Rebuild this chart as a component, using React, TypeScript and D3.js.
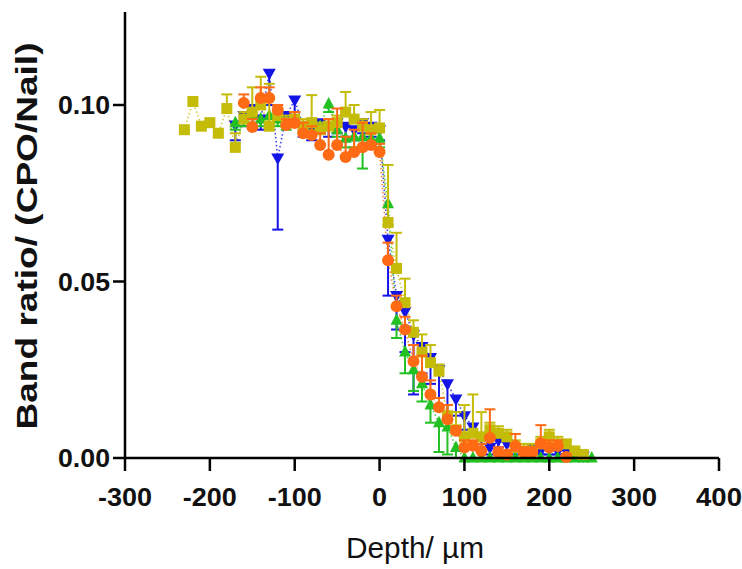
import React from "react";
import * as d3 from "d3";

const xTicks = [-300, -200, -100, 0, 100, 200, 300, 400];
const yTicks = [0, 0.05, 0.1];

// Olive squares (upper error bars)
const oliveX = [-230,-220,-210,-200,-190,-180,-170,-160,-150,-140,-130,-120,-110,-100,-90,-80,-70,-60,-50,-40,-30,-20,-10,0,10,20,30,40,50,60,70,80,90,100,110,120,130,140,150,160,170,180,190,200,210,220,230,240];
const oliveY = [0.093,0.101,0.094,0.095,0.092,0.099,0.088,0.096,0.098,0.100,0.094,0.097,0.095,0.096,0.094,0.095,0.093,0.094,0.095,0.098,0.096,0.094,0.093,0.0935,0.0667,0.0537,0.044,0.0356,0.030,0.027,0.0246,0.012,0.008,0.006,0.007,0.006,0.008,0.007,0.006,0.003,0.002,0.002,0.004,0.006,0.004,0.004,0.002,0.001];
const oliveErr = [0.093,0.101,0.094,0.095,0.092,0.103,0.092,0.098,0.105,0.108,0.106,0.099,0.097,0.098,0.096,0.1028,0.095,0.096,0.097,0.1037,0.100,0.096,0.098,0.0986,0.083,0.0638,0.0508,0.039,0.035,0.032,0.0265,0.015,0.013,0.015,0.018,0.013,0.010,0.009,0.008,0.005,0.004,0.004,0.006,0.008,0.006,0.005,0.003,0.002];

// Blue inverted triangles (lower error bars)
const blueX = [-170,-160,-150,-140,-130,-120,-110,-100,-90,-80,-70,-60,-50,-40,-30,-20,-10,0,10,20,30,40,50,60,70,80,90,100,110,120,130,140,150,160,170,180,190,200,210,220,230,240];
const blueY = [0.0943,0.097,0.099,0.096,0.109,0.085,0.097,0.1014,0.094,0.093,0.095,0.094,0.095,0.094,0.093,0.095,0.094,0.093,0.062,0.046,0.0415,0.035,0.0316,0.0285,0.025,0.021,0.0167,0.012,0.0088,0.006,0.003,0.005,0.004,0.003,0.002,0.003,0.002,0.003,0.002,0.002,0.001,0.0006];
const blueErr = [0.090,0.094,0.096,0.093,0.100,0.0647,0.094,0.098,0.091,0.090,0.092,0.091,0.092,0.091,0.090,0.092,0.091,0.090,0.046,0.0364,0.030,0.018,0.024,0.021,0.017,0.013,0.012,0.008,0.006,0.004,0.001,0.003,0.002,0.001,0.001,0.001,0.001,0.001,0.001,0.001,0.0,0.0];

// Green triangles (lower error bars)
const greenX = [-170,-160,-150,-140,-130,-120,-110,-100,-90,-80,-70,-60,-50,-40,-30,-20,-10,0,10,20,30,40,50,60,70,80,90,100,110,120,130,140,150,160,170,180,190,200,210,220,230,240,250];
const greenY = [0.095,0.096,0.097,0.096,0.097,0.096,0.095,0.096,0.094,0.095,0.094,0.1003,0.093,0.0906,0.091,0.091,0.0906,0.0906,0.072,0.039,0.030,0.025,0.021,0.015,0.010,0.0088,0.003,0.0,0.0,0.0,0.0,0.0,0.0,0.0,0.0,0.0,0.0,0.0,0.0,0.0,0.0,0.0,0.0];
const greenErr = [0.093,0.094,0.095,0.094,0.095,0.094,0.093,0.094,0.092,0.093,0.092,0.098,0.091,0.088,0.088,0.082,0.088,0.088,0.066,0.034,0.024,0.019,0.016,0.010,0.0017,0.001,0.0,0.0,0.0,0.0,0.0,0.0,0.0,0.0,0.0,0.0,0.0,0.0,0.0,0.0,0.0,0.0,0.0];

// Orange circles (upper error bars)
const orangeX = [-160,-150,-140,-130,-120,-110,-100,-90,-80,-70,-60,-50,-40,-30,-20,-10,0,10,20,30,40,50,60,70,80,90,100,110,120,130,140,150,160,170,180,190,200,210,220];
const orangeY = [0.1006,0.0938,0.102,0.102,0.0986,0.0943,0.0949,0.092,0.0915,0.0887,0.0859,0.0887,0.0853,0.0867,0.088,0.0887,0.0867,0.056,0.043,0.0364,0.0274,0.023,0.018,0.0144,0.011,0.0077,0.003,0.0035,0.002,0.0057,0.0016,0.001,0.0034,0.0016,0.0017,0.0042,0.003,0.0034,0.0003];
const orangeErr = [0.103,0.096,0.105,0.105,0.100,0.096,0.098,0.095,0.094,0.092,0.096,0.099,0.091,0.093,0.095,0.092,0.089,0.061,0.046,0.040,0.032,0.029,0.022,0.017,0.015,0.009,0.005,0.005,0.004,0.0138,0.003,0.002,0.0068,0.003,0.003,0.0093,0.005,0.005,0.001];

const W = 742;
const H = 569;

type Shape = "square" | "circle" | "tri" | "itri";

function App() {
  const x = d3.scaleLinear().domain([-300, 400]).range([125, 719]);
  const y = d3.scaleLinear().domain([0, 0.1]).range([458, 105]);
  const yTop = 12;

  const series: { xs: number[]; ys: number[]; err: number[]; color: string; shape: Shape }[] = [
    { xs: blueX, ys: blueY, err: blueErr, color: "#1414e6", shape: "itri" },
    { xs: greenX, ys: greenY, err: greenErr, color: "#22c022", shape: "tri" },
    { xs: oliveX, ys: oliveY, err: oliveErr, color: "#c4bc08", shape: "square" },
    { xs: orangeX, ys: orangeY, err: orangeErr, color: "#ff6a14", shape: "circle" },
  ];

  const marker = (shape: Shape, cx: number, cy: number, color: string, key: string) => {
    if (shape === "square") return <rect key={key} x={cx - 5.5} y={cy - 5.5} width={11} height={11} fill={color} />;
    if (shape === "circle") return <circle key={key} cx={cx} cy={cy} r={6} fill={color} />;
    if (shape === "tri")
      return <path key={key} d={`M${cx},${cy - 7}L${cx + 6},${cy + 4.5}L${cx - 6},${cy + 4.5}Z`} fill={color} />;
    return <path key={key} d={`M${cx},${cy + 7}L${cx + 6.5},${cy - 4.5}L${cx - 6.5},${cy - 4.5}Z`} fill={color} />;
  };

  const fontTick = "'Liberation Sans', Arial, sans-serif";

  return (
    <svg width={W} height={H} style={{ position: "absolute", left: 0, top: 0, background: "#fff" }}>
      <rect width={W} height={H} fill="#fff" />
      {series.map((s, i) => {
        const line = d3
          .line<number>()
          .x((_, j) => x(s.xs[j]))
          .y((v) => y(v));
        return (
          <path key={"l" + i} d={line(s.ys) || ""} fill="none" stroke={s.color} strokeWidth={1.6} strokeDasharray="1.5 2.5" opacity={0.8} />
        );
      })}
      {series.map((s, i) => (
        <g key={"s" + i}>
          {s.ys.map((v, j) => {
            const cx = x(s.xs[j]);
            const e = s.err[j];
            if (Math.abs(e - v) < 0.0005) return null;
            return (
              <g key={j}>
                <line x1={cx} x2={cx} y1={y(v)} y2={y(e)} stroke={s.color} strokeWidth={2} />
                <line x1={cx - 5.5} x2={cx + 5.5} y1={y(e)} y2={y(e)} stroke={s.color} strokeWidth={2} />
              </g>
            );
          })}
          {s.ys.map((v, j) => marker(s.shape, x(s.xs[j]), y(v), s.color, "m" + j))}
        </g>
      ))}
      <line x1={125} x2={125} y1={yTop} y2={458} stroke="#000" strokeWidth={2.5} />
      <line x1={125} x2={719} y1={458} y2={458} stroke="#000" strokeWidth={2.5} />
      {yTicks.map((t) => (
        <g key={"yt" + t}>
          <line x1={113} x2={125} y1={y(t)} y2={y(t)} stroke="#000" strokeWidth={2.5} />
          <text
            x={110}
            y={y(t) + 9}
            textAnchor="end"
            fontFamily={fontTick}
            fontWeight="bold"
            fontSize={25}
            textLength={52}
            lengthAdjust="spacingAndGlyphs"
            fill="#111"
          >
            {t.toFixed(2)}
          </text>
        </g>
      ))}
      {xTicks.map((t) => (
        <g key={"xt" + t}>
          <line x1={x(t)} x2={x(t)} y1={458} y2={471} stroke="#000" strokeWidth={2.5} />
          <text
            x={x(t)}
            y={506}
            textAnchor="middle"
            fontFamily={fontTick}
            fontWeight="bold"
            fontSize={25}
            textLength={t < 0 ? 54 : t === 0 ? 15 : 46}
            lengthAdjust="spacingAndGlyphs"
            fill="#111"
          >
            {t}
          </text>
        </g>
      ))}
      <text
        x={415}
        y={558}
        textAnchor="middle"
        fontFamily={fontTick}
        fontSize={30}
        textLength={138}
        lengthAdjust="spacingAndGlyphs"
        fill="#111"
      >
        Depth/ µm
      </text>
      <text
        transform={`translate(37,236) rotate(-90)`}
        textAnchor="middle"
        fontFamily={fontTick}
        fontWeight="bold"
        fontSize={30}
        textLength={387}
        lengthAdjust="spacingAndGlyphs"
        fill="#111"
      >
        Band ratio/ (CPO/Nail)
      </text>
    </svg>
  );
}

export default App;
